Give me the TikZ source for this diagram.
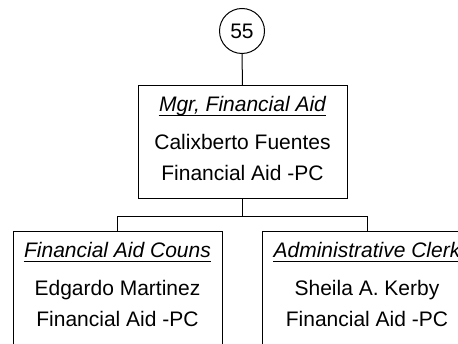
\documentclass[tikz,border=0pt]{standalone}
\usepackage{fontspec}
\setmainfont{Liberation Sans}
\begin{document}
\begin{tikzpicture}[x=1pt,y=-1pt,line width=1pt,
  box/.style={draw,rectangle,minimum width=209pt,inner sep=0pt},
  txt/.style={anchor=base,inner sep=0pt,font=\fontsize{21}{25}\selectfont},
  ttl/.style={txt,font=\fontsize{21}{25}\selectfont\itshape}]
\useasboundingbox (0,0) rectangle (458,344);
\clip (0,0) rectangle (458,344);
\node[draw,circle,minimum size=45pt,inner sep=0pt,font=\fontsize{21}{25}\selectfont] (c) at (242,31) {55};
\node[box,minimum height=113pt] (top) at (242.5,142.5) {};
\node[box,minimum height=130pt] (l) at (117.5,297) {};
\node[box,minimum height=130pt] (r) at (367,297) {};
\draw (c.south) -- (top.north);
\draw (top.south) -- ++(0,17) coordinate (bar);
\draw (bar) -| (l.north);
\draw (bar) -| (r.north);
\node[ttl] (t0) at (242.5,111.7) {Mgr, Financial Aid};
\node[txt] (n0) at (242.5,150) {Calixberto Fuentes};
\node[txt] (d0) at (242.5,180.7) {Financial Aid -PC};
\node[ttl] (t1) at (117.5,257.7) {Financial Aid Couns};
\node[txt] (n1) at (117.5,296) {Edgardo Martinez};
\node[txt] (d1) at (117.5,326.7) {Financial Aid -PC};
\node[ttl] (t2) at (367,257.7) {Administrative Clerk};
\node[txt] (n2) at (367,296) {Sheila A. Kerby};
\node[txt] (d2) at (367,326.7) {Financial Aid -PC};
\foreach \t in {t0,t1,t2}
  \draw ([yshift=-3.8pt]\t.base west) -- ([yshift=-3.8pt]\t.base east);
\end{tikzpicture}
\end{document}
